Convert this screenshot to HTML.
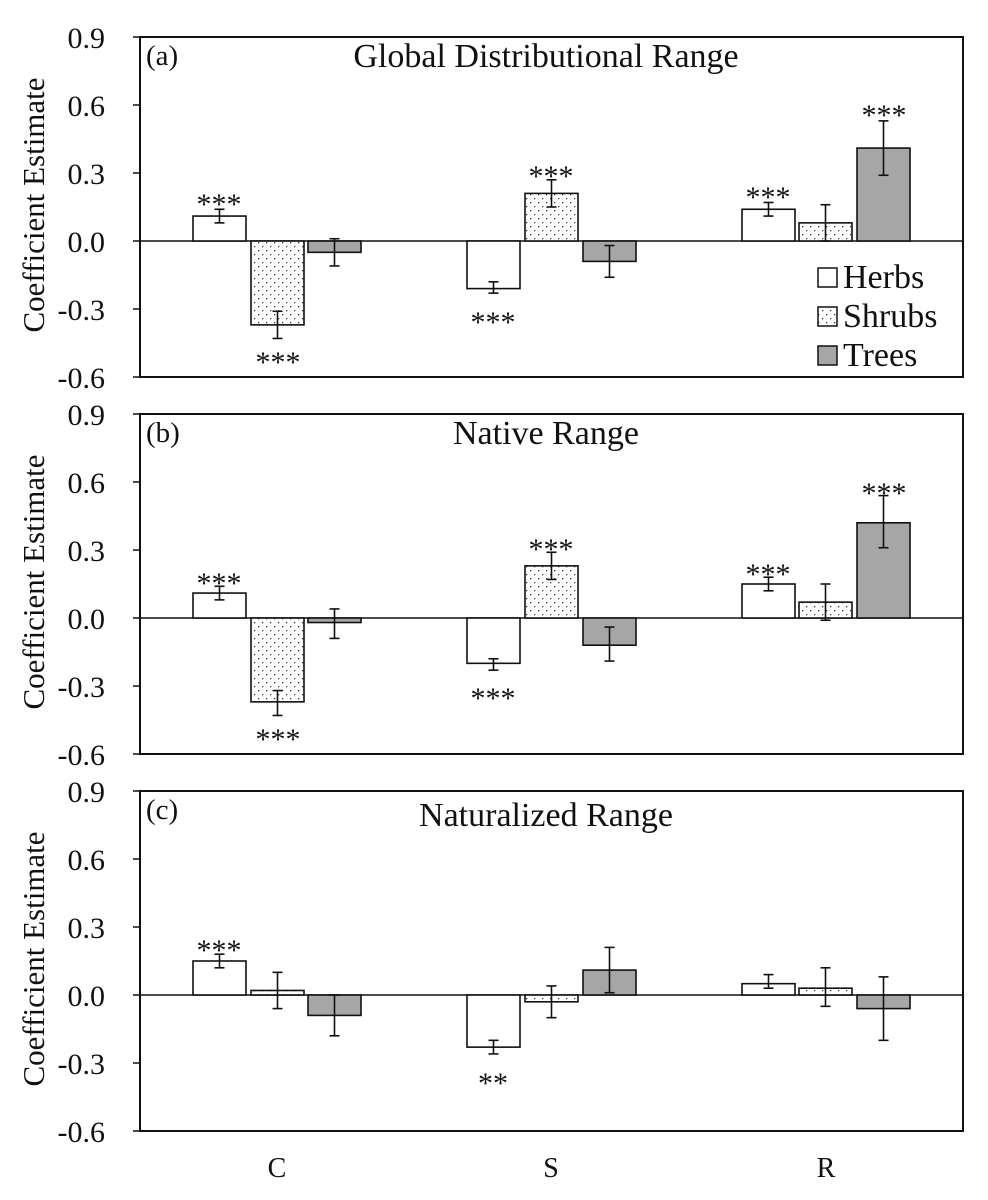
<!DOCTYPE html>
<html><head><meta charset="utf-8"><style>body{margin:0;background:#fff}svg{display:block}text{font-family:"Liberation Serif",serif;fill:#111}</style></head><body>
<svg id="s" width="988" height="1200" viewBox="0 0 988 1200" xmlns="http://www.w3.org/2000/svg">
<defs><pattern id="dots" width="8" height="8" patternUnits="userSpaceOnUse"><rect width="8" height="8" fill="#fff"/><rect x="2" y="2" width="1.3" height="1.3" fill="#333"/><rect x="6" y="6" width="1.3" height="1.3" fill="#333"/></pattern></defs>
<g id="g"></g>
<g font-size="30" text-anchor="end">
<text x="105" y="48">0.9</text><text x="105" y="116">0.6</text><text x="105" y="184">0.3</text><text x="105" y="252">0.0</text><text x="105" y="320">-0.3</text><text x="105" y="388">-0.6</text>
<text x="105" y="425">0.9</text><text x="105" y="493">0.6</text><text x="105" y="561">0.3</text><text x="105" y="629">0.0</text><text x="105" y="697">-0.3</text><text x="105" y="765">-0.6</text>
<text x="105" y="802">0.9</text><text x="105" y="870">0.6</text><text x="105" y="938">0.3</text><text x="105" y="1006">0.0</text><text x="105" y="1074">-0.3</text><text x="105" y="1142">-0.6</text>
</g>
<g font-size="31" text-anchor="middle">
<text transform="translate(44,205) rotate(-90)">Coefficient Estimate</text>
<text transform="translate(44,582) rotate(-90)">Coefficient Estimate</text>
<text transform="translate(44,959) rotate(-90)">Coefficient Estimate</text>
</g>
<g font-size="29"><text x="146" y="65">(a)</text><text x="146" y="442">(b)</text><text x="146" y="819">(c)</text></g>
<g font-size="34" text-anchor="middle"><text x="546" y="67">Global Distributional Range</text><text x="546" y="444">Native Range</text><text x="546" y="826">Naturalized Range</text></g>
<g font-size="28" text-anchor="middle"><text x="277" y="1177">C</text><text x="551" y="1177">S</text><text x="826" y="1177">R</text></g>
<g font-size="30" text-anchor="middle" style="fill:#333">
<text x="219" y="214">***</text><text x="278" y="372">***</text><text x="493" y="332">***</text><text x="551" y="186">***</text><text x="768" y="207">***</text><text x="884" y="125">***</text>
<text x="219" y="593">***</text><text x="278" y="749">***</text><text x="493" y="708">***</text><text x="551" y="559">***</text><text x="768" y="584">***</text><text x="884" y="503">***</text>
<text x="219" y="960">***</text><text x="493" y="1093">**</text>
</g>
<g>
<rect x="818" y="268" width="19" height="19" fill="#fff" stroke="#111" stroke-width="1.5"/>
<rect x="818" y="307" width="19" height="19" fill="url(#dots)" stroke="#111" stroke-width="1.5"/>
<rect x="818" y="346" width="19" height="19" fill="#a6a6a6" stroke="#111" stroke-width="1.5"/>
<g font-size="34"><text x="843" y="288">Herbs</text><text x="843" y="327">Shrubs</text><text x="843" y="366">Trees</text></g>
</g>
</svg>
<script>
var g=document.getElementById('g'),h='';
var panels=[[37,241],[414,618],[791,995]],k=340/1.5;
var xs=[[193,251,308],[467,525,583],[742,799,857]];
var fills=['#fff','url(#dots)','#a6a6a6'];
var d=[
[[[0.11,0.14,0.08],[-0.37,-0.31,-0.43],[-0.05,0.01,-0.11]],[[-0.21,-0.18,-0.23],[0.21,0.27,0.15],[-0.09,-0.02,-0.16]],[[0.14,0.17,0.11],[0.08,0.16,0.0],[0.41,0.53,0.29]]],
[[[0.11,0.14,0.08],[-0.37,-0.32,-0.43],[-0.02,0.04,-0.09]],[[-0.20,-0.18,-0.23],[0.23,0.29,0.17],[-0.12,-0.04,-0.19]],[[0.15,0.18,0.12],[0.07,0.15,-0.01],[0.42,0.54,0.31]]],
[[[0.15,0.18,0.12],[0.02,0.10,-0.06],[-0.09,0.0,-0.18]],[[-0.23,-0.20,-0.26],[-0.03,0.04,-0.10],[0.11,0.21,0.01]],[[0.05,0.09,0.03],[0.03,0.12,-0.05],[-0.06,0.08,-0.20]]]];
panels.forEach(function(p,pi){var t=p[0],z=p[1];
 h+='<rect x="140" y="'+t+'" width="823" height="340" fill="none" stroke="#111" stroke-width="2"/>';
 for(var i=0;i<6;i++){var y=t+i*68;h+='<line x1="133" x2="140" y1="'+y+'" y2="'+y+'" stroke="#111" stroke-width="1.5"/>';}
 h+='<line x1="140" x2="963" y1="'+z+'" y2="'+z+'" stroke="#111" stroke-width="1.5"/>';
 d[pi].forEach(function(gr,gi){gr.forEach(function(v,bi){var x=xs[gi][bi],w=53,y1=z-v[0]*k;
  h+='<rect x="'+x+'" y="'+Math.min(y1,z)+'" width="'+w+'" height="'+Math.abs(y1-z)+'" fill="'+fills[bi]+'" stroke="#111" stroke-width="1.6"/>';
  var cx=x+w/2,ya=z-v[1]*k,yb=z-v[2]*k;
  h+='<line x1="'+cx+'" x2="'+cx+'" y1="'+ya+'" y2="'+yb+'" stroke="#111" stroke-width="1.6"/><line x1="'+(cx-5)+'" x2="'+(cx+5)+'" y1="'+ya+'" y2="'+ya+'" stroke="#111" stroke-width="1.6"/><line x1="'+(cx-5)+'" x2="'+(cx+5)+'" y1="'+yb+'" y2="'+yb+'" stroke="#111" stroke-width="1.6"/>';
 });});
});
g.innerHTML=h;
</script>
</body></html>
